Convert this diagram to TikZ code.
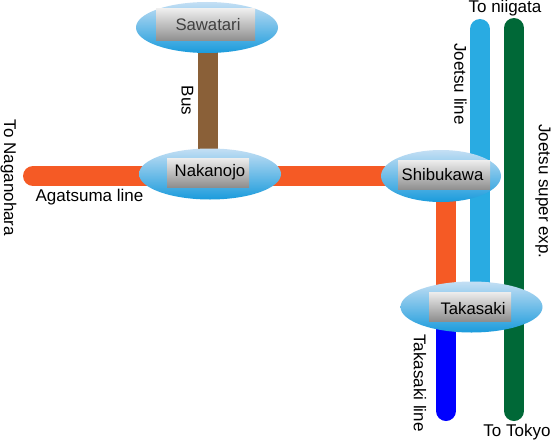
\documentclass[tikz,border=0pt]{standalone}
\usepackage{fontspec}
\setmainfont{Liberation Sans}
\usetikzlibrary{shapes.geometric,backgrounds}
\definecolor{orangeline}{HTML}{F55A25}
\definecolor{brownline}{HTML}{8A6038}
\definecolor{skyline}{HTML}{29ABE2}
\definecolor{greenline}{HTML}{006837}
\definecolor{deepblue}{HTML}{0000FF}
\definecolor{balltop}{HTML}{C4DFF4}
\definecolor{ballbot}{HTML}{1A9BDC}
\definecolor{boxtop}{HTML}{EDEDED}
\definecolor{boxbot}{HTML}{8E8E8E}
\tikzset{
  station/.style={ellipse,inner sep=0pt,minimum width=142pt,minimum height=51pt,top color=balltop,bottom color=ballbot,draw=none},
  plate/.style={rectangle,inner sep=0pt,top color=boxtop,bottom color=boxbot,draw=none},
  stationtext/.style={font=\fontsize{16.7}{18}\selectfont,inner sep=0pt,text=black},
  captiontext/.style={font=\fontsize{17}{18}\selectfont,inner sep=0pt,text=black},
  rail/.style={line width=20pt,line cap=round},
  stub/.style={line width=20pt}
}
\begin{document}
\begin{tikzpicture}[x=1pt,y=-1pt]
\useasboundingbox (0,0) rectangle (553,444);
% stations
\node[station] (sawatari) at (207,27.5) {};
\node[plate,minimum width=99pt,minimum height=32pt] (sawatariP) at (205.5,25) {};
\node[stationtext,text=black!75] (sawatariT) at (208,24.5) {Sawatari};
\node[station] (nakanojo) at (210,174) {};
\node[plate,minimum width=82pt,minimum height=29pt] (nakanojoP) at (208,172.5) {};
\node[stationtext] (nakanojoT) at (210,172.5) {Nakanojo};
\node[station,minimum width=120pt,minimum height=52pt] (shibukawa) at (441,176) {};
\node[plate,minimum width=92pt,minimum height=29.5pt] (shibukawaP) at (444,175) {};
\node[stationtext] (shibukawaT) at (442.5,175) {Shibukawa};
\node[station] (takasaki) at (471.5,307) {};
\node[plate,minimum width=82pt,minimum height=29pt] (takasakiP) at (470,306.5) {};
\node[stationtext] (takasakiT) at (473,308.5) {Takasaki};
% free ends
\coordinate (agW) at (33,176);
\coordinate (agM) at (210,176);
\coordinate (tkN) at (446,176);
\coordinate (tkM) at (446,307);
\coordinate (tkS) at (446,411);
\coordinate (joN) at (480,29);
\coordinate (joM) at (480,307);
\coordinate (gnN) at (514,28);
\coordinate (gnS) at (514,411);
\coordinate (buN) at (208,27.5);
\coordinate (buS) at (208,174);
\begin{scope}[on background layer]
\fill[white] (0,0) rectangle (553,444);
\draw[rail,orangeline] (agW) -- (agM);
\draw[stub,orangeline] (agM) -- (shibukawa.center);
\draw[stub,brownline] (buN) -- (buS);
\draw[rail,skyline] (joN) -- (joM);
\draw[rail,greenline] (gnN) -- (gnS);
\draw[rail,deepblue] (tkM) -- (tkS);
\draw[stub,orangeline] (tkN) -- (tkM);
\end{scope}
% captions
\node[captiontext,rotate=-90] (bus) at (187.5,100.5) {Bus};
\node[captiontext,rotate=-90] (naga) at (8.5,178) {To Naganohara};
\node[captiontext] (aga) at (89.5,197) {Agatsuma line};
\node[captiontext,rotate=-90] (joe) at (460.5,84) {Joetsu line};
\node[captiontext] (nii) at (505,8) {To niigata};
\node[captiontext,rotate=-90] (sup) at (543,191.5) {Joetsu super exp.};
\node[captiontext,rotate=-90] (tkl) at (420,383) {Takasaki line};
\node[captiontext] (tok) at (517,432) {To Tokyo};
\end{tikzpicture}
\end{document}
